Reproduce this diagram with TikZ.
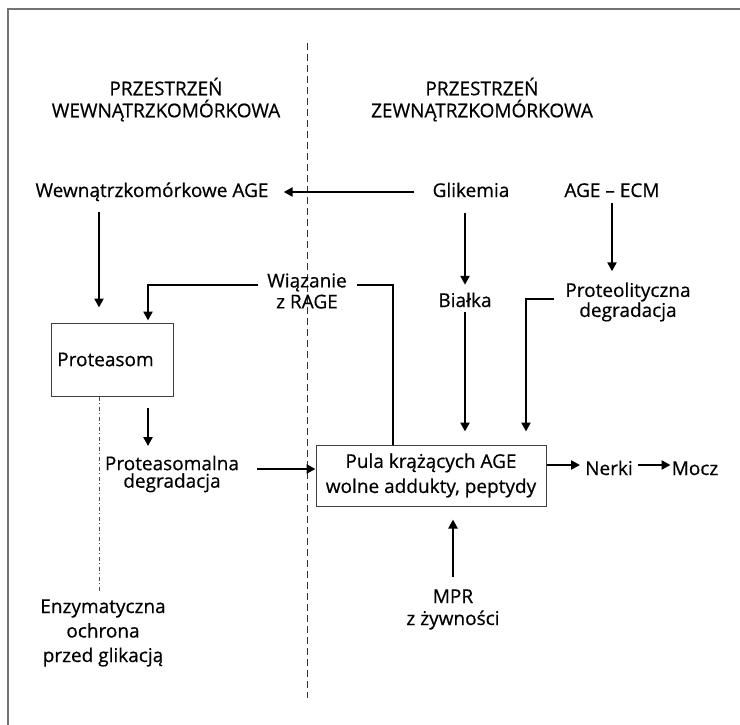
\documentclass[tikz,border=0pt]{standalone}
\usepackage{fontspec}
\setmainfont[FakeBold=0.5]{Open Sans}
\usetikzlibrary{arrows.meta,calc}
\begin{document}
\begin{tikzpicture}[x=1pt,y=-1pt,
  every node/.style={inner sep=0pt,text=black},
  fs/.style={font=\fontsize{19}{#1}\selectfont},
  lbl/.style={fs=22,text height=13pt,text depth=3pt,anchor=base},
  ml/.style={align=center},
  boxn/.style={draw=black!75,line width=1pt},
  ln/.style={line width=2.8pt,black},
  arr/.style={ln,-{Triangle[length=9pt,width=9pt]}},
  frame/.style={draw=black!55,line width=1.4pt},
  divider/.style={black!80,line width=0.9pt,dash pattern=on 7pt off 4pt},
  dashdot/.style={black!70,line width=0.8pt,dash pattern=on 4pt off 2.5pt on 1pt off 2.5pt}]
\useasboundingbox (0,0) rectangle (740,725);
\fill[white] (0,0) rectangle (740,725);
% frame (only top and left edges visible)
\draw[frame] (740,9) -- (8,9) -- (8,725);
% divider
\draw[divider] (307,43) -- (307,698);

% headings
\node[ml,fs=22] (hL) at (166,99.5) {PRZESTRZEŃ\\WEWNĄTRZKOMÓRKOWA};
\node[ml,fs=22] (hR) at (482,99.5) {PRZESTRZEŃ\\ZEWNĄTRZKOMÓRKOWA};

% single-line labels
\node[lbl] (wage) at (152,197) {Wewnątrzkomórkowe AGE};
\node[lbl] (gli) at (471,197) {Glikemia};
\node[lbl] (ecm) at (612,197) {AGE – ECM};
\node[lbl] (bia) at (465,307) {Białka};
\node[lbl] (nerki) at (609,475) {Nerki};
\node[lbl] (mocz) at (695,475) {Mocz};

% multi-line labels
\node[ml,fs=21] (wia) at (307,291) {Wiązanie\\z RAGE};
\node[ml,fs=17.5] (prot) at (628,302) {Proteolityczna\\degradacja};
\node[ml,fs=17.5] (pdeg) at (172,474) {Proteasomalna\\degradacja};
\node[ml,fs=24.5] (enz) at (103,633) {Enzymatyczna\\ochrona\\przed glikacją};
\node[ml,fs=22] (mpr) at (453,609.5) {MPR\\z żywności};

% boxes
\node[boxn,fs=22,minimum width=122pt,minimum height=73pt] (pbox) at (112,359.5) {Proteasom\hspace*{13pt}};
\node[boxn,ml,fs=25,minimum width=230pt,minimum height=61pt] (pula) at (431,475.5) {Pula krążących AGE\\wolne addukty, peptydy};

% connectors
\draw[arr,shorten <=18pt,shorten >=15pt] (gli.west) -- (gli.west -| wage.east);
\draw[arr,shorten <=13pt,shorten >=9pt] (gli.south -| bia.north) -- (bia.north);
\draw[arr,shorten <=3pt,shorten >=11pt] (ecm.south) -- (ecm.south |- prot.north);
\draw[arr,shorten <=12pt,shorten >=15pt] ([xshift=-53pt]wage.south) -- ([xshift=-13pt]pbox.north);
\draw[arr,shorten <=2pt,shorten >=13pt] (bia.south) -- (bia.south |- pula.north);
\draw[arr,shorten <=11pt,shorten >=13pt] ([yshift=3pt]prot.west) -| ([xshift=95pt]pula.north);
\draw[ln] ([xshift=-38pt]pula.north) |- ([xshift=10pt,yshift=6pt]wia.east);
\draw[arr,shorten <=9pt,shorten >=2pt] ([yshift=6pt]wia.west) -| ([xshift=36pt]pbox.north);
\draw[arr,shorten <=11pt,shorten >=9.5pt] ([xshift=36pt]pbox.south) -- ([xshift=36pt]pbox.south |- pdeg.north);
\draw[arr,shorten <=18pt] ([yshift=5pt]pdeg.east) -- ([yshift=5pt]pdeg.east -| pula.west);
\draw[arr,shorten >=5pt] ([yshift=5pt]nerki.west -| pula.east) -- ([yshift=5pt]nerki.west);
\draw[arr,shorten <=5pt,shorten >=1pt] ([yshift=5pt]nerki.east) -- ([yshift=5pt]nerki.east -| mocz.west);
\draw[arr,shorten <=12pt,shorten >=13pt] (mpr.north) -- (mpr.north |- pula.south);
\draw[dashdot,shorten >=7pt] ([xshift=-13pt]pbox.south) -- ([xshift=-13pt]pbox.south |- enz.north);
\end{tikzpicture}
\end{document}
